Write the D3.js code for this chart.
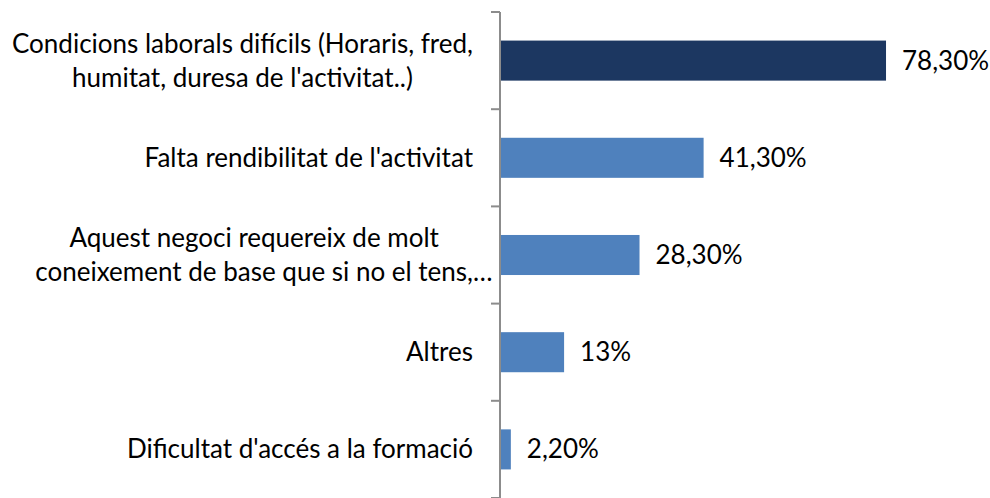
<!DOCTYPE html>
<html>
<head>
<meta charset="utf-8">
<script src="https://cdn.jsdelivr.net/npm/d3@7"></script>
<style>
  body { margin: 0; background: #fff; }
  text { font-family: Lato, "Open Sans", sans-serif; fill: #000; }
</style>
</head>
<body>
<script>
var w = 990;
var h = 498;

// data
var categories = [
  ["Condicions laborals difícils (Horaris, fred,", "humitat, duresa de l'activitat..)"],
  ["Falta rendibilitat de l'activitat"],
  ["Aquest negoci requereix de molt", "coneixement de base que si no el tens,…"],
  ["Altres"],
  ["Dificultat d'accés a la formació"]
];
var values = [78.3, 41.3, 28.3, 13, 2.2];
var valueLabels = ["78,30%", "41,30%", "28,30%", "13%", "2,20%"];
var barColors = ["#1c3761", "#4f81bd", "#4f81bd", "#4f81bd", "#4f81bd"];

var axisX = 500;
var fontSize = 26;
var lineH = 34;

var svg = d3.select("body").append("svg")
  .attr("width", w)
  .attr("height", h);

var yScale = d3.scaleBand()
  .domain(d3.range(values.length))
  .range([12, 498])
  .paddingInner(0.588)
  .paddingOuter(0.294);

var xScale = d3.scaleLinear()
  .domain([0, 100])
  .range([axisX, axisX + 493]);

// bars
svg.selectAll("rect.bar")
  .data(values)
  .join("rect")
  .attr("class", "bar")
  .attr("x", xScale(0))
  .attr("y", function(d, i){ return yScale(i); })
  .attr("width", function(d){ return xScale(d) - xScale(0); })
  .attr("height", yScale.bandwidth())
  .attr("fill", function(d, i){ return barColors[i]; });

// value labels
svg.selectAll("text.val")
  .data(values)
  .join("text")
  .attr("class", "val")
  .attr("x", function(d){ return xScale(d) + 16; })
  .attr("y", function(d, i){ return yScale(i) + yScale.bandwidth()/2 + 9; })
  .style("font-size", fontSize + "px")
  .text(function(d, i){ return valueLabels[i]; });

// axis line and ticks at category boundaries
var r0 = yScale.range()[0];
var step = yScale.step();
svg.append("line")
  .attr("x1", axisX).attr("x2", axisX)
  .attr("y1", r0).attr("y2", h)
  .attr("stroke", "#8c8c8c")
  .attr("stroke-width", 2);

svg.selectAll("line.tick")
  .data(d3.range(values.length + 1))
  .join("line")
  .attr("class", "tick")
  .attr("x1", axisX - 9).attr("x2", axisX)
  .attr("y1", function(i){ return r0 + i*step; })
  .attr("y2", function(i){ return r0 + i*step; })
  .attr("stroke", "#8c8c8c")
  .attr("stroke-width", 2);

// category labels, wrapped lines centred, block right aligned
var labelRight = 473;
var g = svg.selectAll("g.cat")
  .data(categories)
  .join("g")
  .attr("class", "cat");

g.each(function(lines, i){
  var grp = d3.select(this);
  var cy = yScale(i) + yScale.bandwidth()/2;
  var texts = grp.selectAll("text")
    .data(lines)
    .join("text")
    .style("font-size", fontSize + "px")
    .attr("y", function(d, j){ return cy + 9 - (lines.length - 1)*lineH/2 + j*lineH; })
    .text(function(d){ return d; });
  if (lines.length == 1) {
    texts.attr("x", labelRight).attr("text-anchor", "end");
  } else {
    // a trailing ellipsis hangs past the centred line
    var ell = [];
    var maxW = 0;
    texts.each(function(d, j){
      var e = d.slice(-1) == "…" ? this.getSubStringLength(d.length - 1, 1) : 0;
      ell[j] = e;
      maxW = Math.max(maxW, this.getComputedTextLength() - e);
    });
    var cx = labelRight - maxW/2;
    texts.attr("x", function(d, j){ return cx + ell[j]/2; })
      .attr("text-anchor", "middle");
  }
});
</script>
</body>
</html>
